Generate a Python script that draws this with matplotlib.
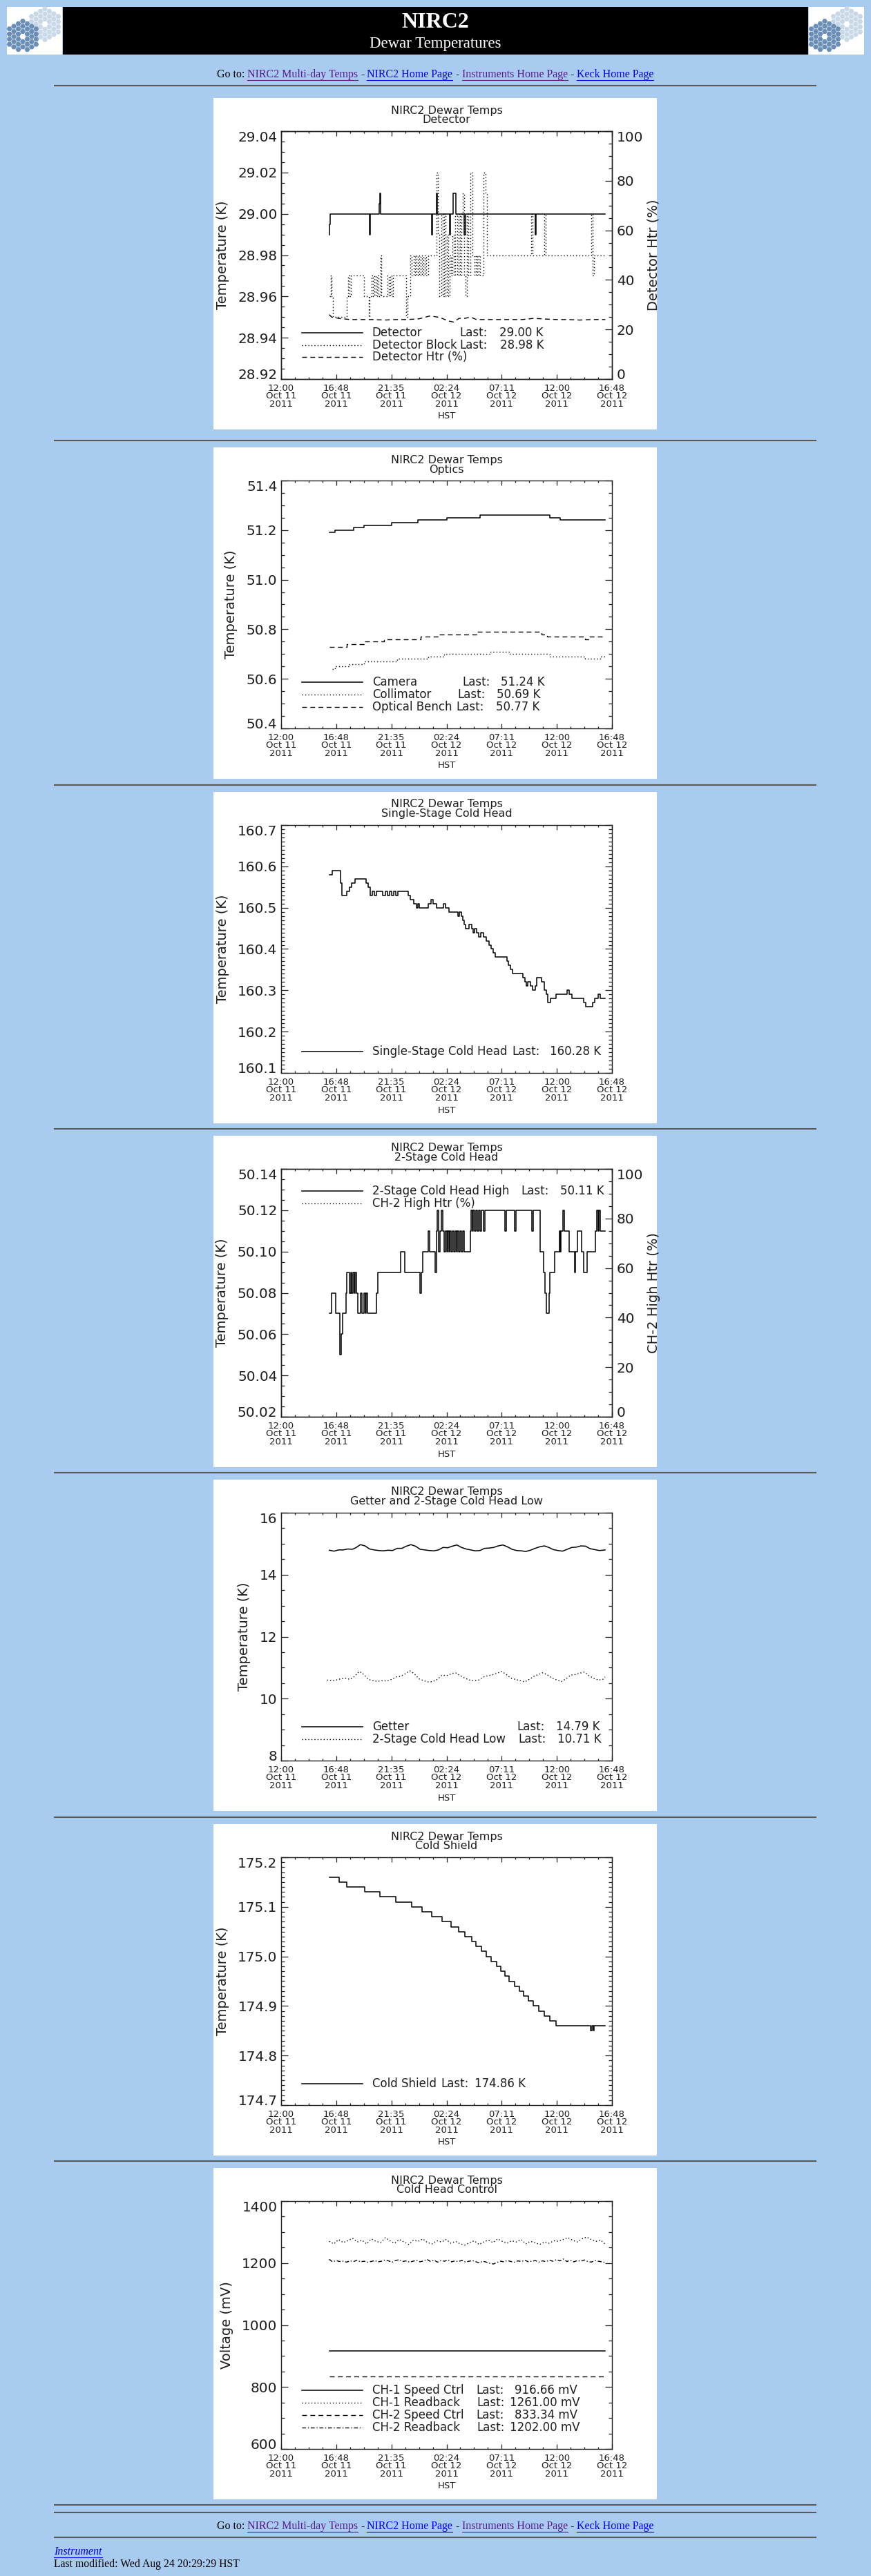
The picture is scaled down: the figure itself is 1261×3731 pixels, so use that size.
import numpy as np
import matplotlib
matplotlib.use('Agg')
import matplotlib.pyplot as plt
from matplotlib.patches import Rectangle, RegularPolygon
from matplotlib.ticker import MultipleLocator
from matplotlib.transforms import Bbox

plt.rcParams['font.family'] = ['DejaVu Sans']

# ---------------- data ----------------
# time axis: hours after 12:00 Oct 11 2011 (HST)
xticks = [0, 4.8, 9.6, 14.4, 19.2, 24.0, 28.8]
xlabels = ['12:00\nOct 11\n2011', '16:48\nOct 11\n2011', '21:35\nOct 11\n2011',
           '02:24\nOct 12\n2011', '07:11\nOct 12\n2011', '12:00\nOct 12\n2011',
           '16:48\nOct 12\n2011']
htr_ticks = [0, 20, 40, 60, 80, 100]
htr_labels = ['0', '20', '40', '60', '80', '100']

# panel 1 - detector
p1_ticks = [28.92, 28.94, 28.96, 28.98, 29.00, 29.02, 29.04]
p1_labels = ['28.92', '28.94', '28.96', '28.98', '29.00', '29.02', '29.04']
det_t = [4.18, 4.22, 4.25, 7.70, 7.78, 8.55, 8.60, 8.68, 13.10, 13.18, 13.50,
         13.60, 14.65, 14.73, 15.00, 15.20, 15.95, 16.05, 22.10, 22.20, 28.22]
det_v = [28.99, 28.995, 29.00, 28.99, 29.00, 29.005, 29.01, 29.00, 28.99, 29.00,
         29.01, 29.00, 28.99, 29.00, 29.01, 29.00, 28.99, 29.00, 28.99, 29.00, 29.00]
blk_t = [4.18, 4.30, 4.38, 4.48, 5.69, 5.82, 5.95, 6.07, 7.21, 7.62, 7.72, 7.85,
         7.97, 8.10, 8.22, 8.35, 8.48, 8.66, 8.73, 9.24, 9.36, 9.49, 9.62, 9.74,
         10.88, 11.01, 11.26, 11.39, 11.52, 11.64, 11.77, 11.89, 12.02, 12.15,
         12.27, 12.40, 12.53, 12.65, 12.78, 13.54, 13.67, 13.79, 13.92, 14.05,
         14.17, 14.30, 14.43, 14.55, 14.68, 14.80, 14.93, 15.06, 15.18, 15.31,
         15.44, 15.56, 15.69, 15.82, 15.94, 16.07, 16.20, 16.32, 16.50, 16.63,
         16.83, 16.96, 17.08, 17.21, 17.34, 17.64, 17.77, 17.89, 21.76, 21.89,
         22.90, 23.03, 27.00, 27.10, 27.26, 28.22]
blk_v = [28.96, 28.97, 28.96, 28.95, 28.96, 28.97, 28.96, 28.97, 28.96, 28.95,
         28.96, 28.97, 28.96, 28.97, 28.96, 28.97, 28.96, 28.98, 28.96, 28.97,
         28.96, 28.97, 28.96, 28.97, 28.95, 28.96, 28.98, 28.97, 28.98, 28.97,
         28.98, 28.97, 28.98, 28.97, 28.98, 28.97, 28.98, 28.97, 28.98, 29.02,
         28.99, 28.96, 29.00, 28.96, 29.00, 28.96, 28.99, 28.96, 28.98, 28.97,
         28.99, 28.97, 29.00, 28.97, 29.00, 28.97, 29.00, 29.01, 28.97, 28.96,
         29.00, 28.97, 29.02, 28.98, 28.97, 28.98, 28.97, 28.98, 28.97, 29.02,
         29.01, 28.98, 29.00, 28.98, 29.00, 28.98, 29.00, 28.97, 28.98, 28.98]
dhtr_t = [4.18, 4.40, 5.0, 6.0, 8.0, 9.0, 10.0, 11.0, 12.0, 13.0, 13.6, 14.0,
          14.5, 15.0, 15.5, 16.0, 16.5, 17.0, 18.0, 19.0, 20.0, 21.0, 22.0,
          23.0, 24.0, 25.0, 26.0, 27.0, 28.22]
dhtr_v = [26.0, 25.0, 24.5, 24.0, 24.0, 23.8, 24.0, 24.0, 24.3, 25.5, 25.0, 24.5,
          23.5, 23.0, 24.5, 24.5, 25.0, 24.0, 24.0, 24.0, 24.0, 24.0, 24.5,
          24.2, 24.0, 24.0, 23.8, 24.0, 24.0]

# panel 2 - optics
p2_ticks = [50.4, 50.6, 50.8, 51.0, 51.2, 51.4]
p2_labels = ['50.4', '50.6', '50.8', '51.0', '51.2', '51.4']
cam_t = [4.18, 4.68, 6.33, 7.21, 9.62, 11.90, 14.43, 17.34, 23.41, 24.30, 28.22]
cam_v = [51.19, 51.20, 51.21, 51.22, 51.23, 51.24, 51.25, 51.26, 51.25, 51.24, 51.24]
col_t = [4.43, 4.68, 5.95, 7.21, 10.12, 12.78, 14.17, 18.22, 19.87, 23.41, 26.45,
         27.80, 28.22]
col_v = [50.64, 50.65, 50.66, 50.67, 50.68, 50.69, 50.70, 50.71, 50.70, 50.69,
         50.68, 50.69, 50.69]
ben_t = [4.18, 5.69, 7.20, 8.98, 12.14, 13.67, 17.08, 22.65, 23.16, 26.45, 26.80, 28.22]
ben_v = [50.73, 50.74, 50.75, 50.76, 50.77, 50.78, 50.79, 50.78, 50.77, 50.76,
         50.77, 50.77]

# panel 3 - single-stage cold head
p3_ticks = [160.1, 160.2, 160.3, 160.4, 160.5, 160.6, 160.7]
p3_labels = ['160.1', '160.2', '160.3', '160.4', '160.5', '160.6', '160.7']
ss_t = [4.18, 4.43, 5.19, 5.31, 5.69, 5.95, 6.12, 6.45, 7.42, 7.59, 7.77, 7.92,
        8.10, 8.28, 8.86, 9.06, 9.24, 9.41, 9.62, 9.79, 10.00, 10.17, 11.06,
        11.26, 11.52, 11.77, 11.89, 12.02, 12.83, 13.03, 13.24, 13.54, 14.10,
        14.30, 14.60, 15.41, 15.51, 15.69, 15.82, 15.94, 16.07, 16.37, 16.58,
        16.70, 16.83, 17.00, 17.20, 17.38, 17.59, 17.84, 18.10, 18.30, 18.47,
        18.65, 19.66, 19.81, 19.99, 20.16, 21.05, 21.20, 21.33, 21.48, 21.68,
        21.89, 22.14, 22.26, 22.69, 22.90, 23.06, 23.21, 23.45, 23.92, 24.87,
        25.05, 25.30, 26.36, 26.49, 27.12, 27.32, 27.58, 27.75, 28.22]
ss_v = [160.58, 160.59, 160.56, 160.53, 160.54, 160.55, 160.56, 160.57, 160.56,
        160.55, 160.53, 160.54, 160.53, 160.54, 160.53, 160.54, 160.53, 160.54,
        160.53, 160.54, 160.53, 160.54, 160.53, 160.52, 160.51, 160.50, 160.51,
        160.50, 160.51, 160.52, 160.51, 160.50, 160.51, 160.50, 160.49, 160.48,
        160.49, 160.48, 160.47, 160.46, 160.45, 160.46, 160.45, 160.44, 160.45,
        160.44, 160.43, 160.44, 160.43, 160.42, 160.41, 160.40, 160.39, 160.38,
        160.37, 160.36, 160.35, 160.34, 160.33, 160.32, 160.31, 160.32, 160.31,
        160.30, 160.31, 160.33, 160.32, 160.30, 160.29, 160.27, 160.28, 160.29,
        160.30, 160.29, 160.28, 160.27, 160.26, 160.27, 160.28, 160.29, 160.28,
        160.28]

# panel 4 - 2-stage cold head
p4_ticks = [50.02, 50.04, 50.06, 50.08, 50.10, 50.12, 50.14]
p4_labels = ['50.02', '50.04', '50.06', '50.08', '50.10', '50.12', '50.14']
ch_t = [4.18, 4.38, 4.73, 5.09, 5.26, 5.37, 5.64, 5.74, 5.95, 6.05, 6.15, 6.25,
        6.35, 6.45, 6.55, 6.66, 6.91, 7.04, 7.21, 7.34, 7.42, 7.54, 8.30, 8.40,
        10.38, 10.76, 12.07, 12.22, 12.32, 12.78, 12.91, 13.41, 13.51, 13.59,
        13.72, 13.82, 13.94, 14.07, 14.20, 14.30, 14.40, 14.50, 14.60, 14.70,
        14.80, 14.93, 15.03, 15.13, 15.26, 15.36, 15.46, 15.59, 15.69, 15.82,
        15.92, 16.45, 16.53, 16.63, 16.73, 16.85, 16.98, 17.08, 17.21, 17.34,
        17.46, 17.59, 17.72, 19.49, 19.59, 20.32, 20.42, 21.81, 21.94, 22.52,
        22.83, 22.98, 23.11, 23.31, 23.41, 23.79, 24.22, 24.29, 24.37, 24.52,
        24.67, 25.10, 25.56, 25.63, 25.81, 26.14, 26.31, 26.64, 27.38, 27.45,
        27.58, 27.65, 27.78, 28.22]
ch_v = [50.07, 50.08, 50.07, 50.05, 50.06, 50.07, 50.08, 50.09, 50.08, 50.09,
        50.08, 50.09, 50.08, 50.09, 50.08, 50.07, 50.08, 50.07, 50.08, 50.07,
        50.08, 50.07, 50.08, 50.09, 50.10, 50.09, 50.08, 50.09, 50.10, 50.11,
        50.10, 50.09, 50.11, 50.12, 50.10, 50.11, 50.12, 50.11, 50.10, 50.11,
        50.10, 50.11, 50.10, 50.11, 50.10, 50.11, 50.10, 50.11, 50.10, 50.11,
        50.10, 50.11, 50.10, 50.11, 50.10, 50.11, 50.12, 50.11, 50.12, 50.11,
        50.12, 50.11, 50.12, 50.11, 50.12, 50.11, 50.12, 50.11, 50.12, 50.11,
        50.12, 50.11, 50.12, 50.10, 50.09, 50.08, 50.07, 50.08, 50.09, 50.10,
        50.11, 50.10, 50.11, 50.12, 50.11, 50.10, 50.09, 50.10, 50.11, 50.10,
        50.09, 50.10, 50.11, 50.12, 50.11, 50.12, 50.11, 50.11]
chh_t = [4.18, 28.22]
chh_v = [0.0, 0.0]

# panel 5 - getter and 2-stage cold head low
p5_ticks = [8, 10, 12, 14, 16]
p5_labels = ['8', '10', '12', '14', '16']
get_t = [4.2, 4.6, 5.0, 5.4, 5.8, 6.2, 6.5, 6.9, 7.3, 7.7, 8.1, 8.5, 8.9, 9.3,
         9.7, 10.1, 10.5, 10.9, 11.3, 11.7, 12.1, 12.5, 12.9, 13.3, 13.7, 14.1,
         14.5, 14.9, 15.3, 15.7, 16.1, 16.5, 16.9, 17.3, 17.7, 18.1, 18.5, 18.9,
         19.3, 19.7, 20.1, 20.5, 20.9, 21.3, 21.7, 22.1, 22.5, 22.9, 23.3, 23.7,
         24.1, 24.5, 24.9, 25.3, 25.7, 26.1, 26.5, 26.9, 27.3, 27.7, 28.0, 28.2]
get_v = [14.79, 14.76, 14.80, 14.80, 14.83, 14.82, 14.87, 14.97, 14.93, 14.83,
         14.80, 14.78, 14.77, 14.79, 14.78, 14.85, 14.85, 14.92, 14.97, 14.92,
         14.82, 14.80, 14.78, 14.77, 14.80, 14.88, 14.87, 14.92, 14.96, 14.88,
         14.83, 14.80, 14.77, 14.78, 14.85, 14.86, 14.88, 14.93, 14.96, 14.90,
         14.82, 14.78, 14.77, 14.75, 14.79, 14.85, 14.90, 14.93, 14.88, 14.81,
         14.78, 14.76, 14.82, 14.88, 14.89, 14.93, 14.92, 14.84, 14.81, 14.78,
         14.79, 14.80]
low_t = [4.0, 4.4, 4.8, 5.2, 5.6, 6.0, 6.4, 6.8, 7.2, 7.6, 8.0, 8.4, 8.8, 9.2,
         9.6, 10.0, 10.4, 10.8, 11.2, 11.6, 12.0, 12.4, 12.8, 13.2, 13.6, 14.0,
         14.4, 14.8, 15.2, 15.6, 16.0, 16.4, 16.8, 17.2, 17.6, 18.0, 18.4, 18.8,
         19.2, 19.6, 20.0, 20.4, 20.8, 21.2, 21.6, 22.0, 22.4, 22.8, 23.2, 23.6,
         24.0, 24.4, 24.8, 25.2, 25.6, 26.0, 26.4, 26.8, 27.2, 27.6, 28.0, 28.2]
low_v = [10.60, 10.58, 10.60, 10.64, 10.66, 10.62, 10.72, 10.88, 10.78, 10.62,
         10.58, 10.56, 10.58, 10.57, 10.62, 10.70, 10.72, 10.80, 10.90, 10.80,
         10.64, 10.58, 10.54, 10.55, 10.62, 10.76, 10.74, 10.80, 10.83, 10.74,
         10.66, 10.60, 10.58, 10.60, 10.70, 10.74, 10.77, 10.82, 10.88, 10.78,
         10.66, 10.62, 10.58, 10.54, 10.62, 10.72, 10.78, 10.84, 10.76, 10.66,
         10.60, 10.55, 10.64, 10.76, 10.78, 10.82, 10.86, 10.74, 10.66, 10.60,
         10.62, 10.70]

# panel 6 - cold shield
p6_ticks = [174.7, 174.8, 174.9, 175.0, 175.1, 175.2]
p6_labels = ['174.7', '174.8', '174.9', '175.0', '175.1', '175.2']
cs_t = [4.18, 5.06, 5.74, 7.29, 8.60, 10.00, 11.39, 12.27, 13.11, 14.00, 14.80,
        15.44, 16.02, 16.58, 16.96, 17.46, 17.84, 18.30, 18.73, 19.11, 19.49,
        19.87, 20.32, 20.75, 21.13, 21.51, 21.94, 22.40, 22.90, 23.41, 23.92,
        26.95, 27.05, 27.16, 27.26, 28.22]
cs_v = [175.16, 175.15, 175.14, 175.13, 175.12, 175.11, 175.10, 175.09, 175.08,
        175.07, 175.06, 175.05, 175.04, 175.03, 175.02, 175.01, 175.00, 174.99,
        174.98, 174.97, 174.96, 174.95, 174.94, 174.93, 174.92, 174.91, 174.90,
        174.89, 174.88, 174.87, 174.86, 174.85, 174.86, 174.85, 174.86, 174.86]

# panel 7 - cold head control
p7_ticks = [600, 800, 1000, 1200, 1400]
p7_labels = ['600', '800', '1000', '1200', '1400']
sc1_v = [916.66, 916.66]
sc2_v = [833.34, 833.34]
rb1_v = [1270, 1262, 1276, 1266, 1272, 1280, 1268, 1274, 1262, 1278, 1270, 1266,
         1282, 1272, 1264, 1276, 1268, 1260, 1274, 1270, 1278, 1266, 1262, 1272,
         1268, 1276, 1264, 1270, 1262, 1258, 1266, 1272, 1260, 1268, 1274, 1266,
         1278, 1270, 1264, 1272, 1268, 1276, 1262, 1270, 1266, 1260, 1268, 1264,
         1272, 1270, 1276, 1282, 1274, 1268, 1278, 1284, 1276, 1270, 1274, 1261]
rb2_v = [1212, 1204, 1208, 1205, 1206, 1203, 1207, 1205, 1209, 1204, 1206, 1203,
         1205, 1208, 1204, 1206, 1210, 1207, 1203, 1208, 1211, 1205, 1207, 1203,
         1206, 1209, 1204, 1207, 1212, 1205, 1209, 1203, 1208, 1206, 1210, 1204,
         1207, 1205, 1209, 1203, 1206, 1208, 1204, 1201, 1206, 1203, 1199, 1197,
         1202, 1206, 1204, 1208, 1205, 1203, 1207, 1205, 1209, 1204, 1206, 1208,
         1203, 1207, 1205, 1209, 1206, 1211, 1207, 1213, 1205, 1209, 1204, 1208,
         1206, 1210, 1205, 1203, 1208, 1206, 1204, 1202]
sc_t = [4.18, 28.22]
rb1_t = np.linspace(4.18, 28.22, len(rb1_v))
rb2_t = np.linspace(4.18, 28.22, len(rb2_v))

# ---------------- page layout ----------------
W, H = 1261, 3731
BG = '#A9CBEF'
INK = '#1e1e1e'
LW = 1.1
LS = {'solid': '-', 'dotted': (0, (1, 2.2)), 'dashed': (0, (5, 3.5)),
      'dashdot': (0, (4, 2, 1, 2))}

fig = plt.figure(figsize=(W / 100, H / 100), dpi=100, facecolor=BG)
page = fig.add_axes([0, 0, 1, 1])
page.set_xlim(0, W)
page.set_ylim(H, 0)
page.axis('off')
renderer = fig.canvas.get_renderer()


def fig_rect(x0, y0, x1, y1):
    return [x0 / W, 1 - y1 / H, (x1 - x0) / W, (y1 - y0) / H]


def logo(x0, y0):
    page.add_patch(Rectangle((x0, y0), 80, 69, fc='white', ec='none'))
    R = 4.3
    for cx, cy, col in ((x0 + 55, y0 + 25, '#C9D8E7'), (x0 + 23, y0 + 43, '#6A8EB6')):
        for q in range(-3, 4):
            for r in range(-3, 4):
                d = max(abs(q), abs(r), abs(q + r))
                if 1 <= d <= 3:
                    px = cx + 1.5 * R * q
                    py = cy + np.sqrt(3) * R * (r + q / 2)
                    if py + R > y0 + 69:
                        continue
                    page.add_patch(RegularPolygon((px, py), 6, radius=R * 0.92,
                                                  orientation=np.pi / 6, fc=col, ec='none'))


def text_runs(runs, y, x0=None, cx=None, size=11.5):
    objs = []
    for s, col, ul, it in runs:
        objs.append(page.text(0, y, s, color=col, family='Liberation Serif', size=size,
                              style='italic' if it else 'normal', va='center', ha='left'))
    a1 = page.text(0, 0, 'a a', family='Liberation Serif', size=size)
    a2 = page.text(0, 0, 'aa', family='Liberation Serif', size=size)
    sp = a1.get_window_extent(renderer).width - a2.get_window_extent(renderer).width
    a1.remove()
    a2.remove()
    widths = [t.get_window_extent(renderer).width for t in objs]
    total = sum(widths) + sp * (len(objs) - 1)
    x = x0 if x0 is not None else cx - total / 2
    for t, w, (s, col, ul, it) in zip(objs, widths, runs):
        t.set_x(x)
        if ul:
            page.plot([x, x + w], [y + 8, y + 8], color=col, lw=0.8)
        x += w + sp


def rule(y):
    page.plot([78, 1182], [y, y], color='#595959', lw=1.5, solid_capstyle='butt')


PURPLE, BLUE = '#551A8B', '#0000EE'
goto = [('Go to:', 'black', False, False), ('NIRC2 Multi-day Temps', PURPLE, True, False),
        ('-', 'black', False, False), ('NIRC2 Home Page', BLUE, True, False),
        ('-', 'black', False, False), ('Instruments Home Page', PURPLE, True, False),
        ('-', 'black', False, False), ('Keck Home Page', BLUE, True, False)]

# banner
page.add_patch(Rectangle((91, 10), 1079, 69, fc='black', ec='none'))
logo(10, 10)
logo(1171, 10)
page.text(630, 33, 'NIRC2', color='white', family='Liberation Serif', size=23,
          weight='bold', ha='center', va='center')
page.text(630, 63, 'Dewar Temperatures', color='white', family='Liberation Serif',
          size=16.5, ha='center', va='center')
text_runs(goto, 108, cx=630)
rule(124)

BOX_X0, BOX_X1, BOX_H = 309, 951, 480
AX_X0, AX_X1, AX_DY0, AX_DY1 = 407, 886, 48, 407
tops = [142, 648, 1147, 1645, 2143, 2642, 3140]
for t in tops[1:]:
    rule(t - 10)
rule(3628)
rule(3639)
text_runs(goto, 3659, cx=630)
rule(3675)
text_runs([('Instrument', BLUE, True, True)], 3696, x0=78)
page.text(78, 3714, 'Last modified: Wed Aug 24 20:29:29 HST', color='black',
          family='Liberation Serif', size=11.3, va='center', ha='left')


def end_labels(ax):
    ticks = ax.yaxis.get_major_ticks()
    for lab in (ticks[0].label1, ticks[0].label2):
        lab.set_va('baseline')
    for lab in (ticks[-1].label1, ticks[-1].label2):
        lab.set_va('top')


def make_panel(top, subtitle, ylim, yticks, ylabels, yminor, ylabel, series,
               names, lasts, cols, leg_y, right=None):
    page.add_patch(Rectangle((BOX_X0, top), BOX_X1 - BOX_X0, BOX_H, fc='white', ec='none'))
    cx = (AX_X0 + AX_X1) / 2
    page.text(cx, top + 18, 'NIRC2 Dewar Temps', ha='center', va='center', size=11.5, color=INK)
    page.text(cx, top + 32, subtitle, ha='center', va='center', size=11.5, color=INK)
    page.text(cx, top + 461, 'HST', ha='center', va='center', size=9.5, color=INK)

    ax = fig.add_axes(fig_rect(AX_X0, top + AX_DY0, AX_X1, top + AX_DY1))
    for s in ax.spines.values():
        s.set_linewidth(1.0)
        s.set_color(INK)
    ax.set_xlim(0, 28.8)
    ax.set_ylim(*ylim)
    ax.set_xticks(xticks, xlabels)
    ax.xaxis.set_minor_locator(MultipleLocator(1.2))
    ax.set_yticks(yticks, ylabels)
    ax.yaxis.set_minor_locator(MultipleLocator(yminor))
    ax.tick_params(which='both', direction='in', top=True, right=right is None,
                   color=INK, width=0.9)
    ax.tick_params(axis='x', which='major', length=5, pad=5, labelsize=9.5, labelcolor=INK)
    ax.tick_params(axis='x', which='minor', length=2.5)
    ax.tick_params(axis='y', which='major', length=7.2, pad=4, labelsize=14.4, labelcolor=INK)
    ax.tick_params(axis='y', which='minor', length=3.6)
    ax.set_ylabel(ylabel, size=14, color=INK, labelpad=9)

    ax2 = None
    if right is not None:
        ax2 = ax.twinx()
        ax2.set_ylim(0, 100)
        ax2.set_yticks(htr_ticks, htr_labels)
        ax2.yaxis.set_minor_locator(MultipleLocator(5))
        ax2.tick_params(which='both', direction='in', color=INK, width=0.9)
        ax2.tick_params(which='major', length=7.2, pad=5, labelsize=14.4, labelcolor=INK)
        ax2.tick_params(which='minor', length=3.6)
        for s in ax2.spines.values():
            s.set_linewidth(1.0)
            s.set_color(INK)
        end_labels(ax2)
        txt = page.text(946, top + (AX_DY0 + AX_DY1) / 2, right, rotation=90,
                        ha='center', va='center', size=14, color=INK)
        txt.set_clip_box(Bbox.from_extents(BOX_X0, H - top - BOX_H, BOX_X1, H - top))
    end_labels(ax)
    for lab in ax.get_xticklabels():
        lab.set_linespacing(0.85)

    styles = []
    for t, v, sty, steps, side in series:
        target = ax2 if side == 'r' else ax
        target.plot(t, v, color='black', lw=LW if sty == 'solid' else 1.0, ls=LS[sty],
                    drawstyle='steps-post' if steps else 'default')
        styles.append(sty)

    for i, name in enumerate(names):
        y = leg_y[i]
        ax.plot([0.062, 0.246], [y, y], transform=ax.transAxes, color='black',
                lw=LW if styles[i] == 'solid' else 1.0, ls=LS[styles[i]])
        ax.text(0.275, y, name, transform=ax.transAxes, va='center', ha='left',
                size=12, color=INK)
        if lasts[i] is not None:
            ax.text(cols[i][0], y, 'Last:', transform=ax.transAxes, va='center',
                    ha='left', size=12, color=INK)
            ax.text(cols[i][1], y, lasts[i], transform=ax.transAxes, va='center',
                    ha='left', size=12, color=INK)
    return ax


make_panel(tops[0], 'Detector', (28.92, 29.04), p1_ticks, p1_labels, 0.005,
           'Temperature (K)',
           [(det_t, det_v, 'solid', True, 'l'), (blk_t, blk_v, 'dotted', True, 'l'),
            (dhtr_t, dhtr_v, 'dashed', False, 'r')],
           ['Detector', 'Detector Block', 'Detector Htr (%)'],
           ['29.00 K', '28.98 K', None], [(0.540, 0.659), (0.540, 0.662), None],
           [0.188, 0.137, 0.088], right='Detector Htr (%)')

make_panel(tops[1], 'Optics', (50.4, 51.4), p2_ticks, p2_labels, 0.05,
           'Temperature (K)',
           [(cam_t, cam_v, 'solid', True, 'l'), (col_t, col_v, 'dotted', True, 'l'),
            (ben_t, ben_v, 'dashed', True, 'l')],
           ['Camera', 'Collimator', 'Optical Bench'],
           ['51.24 K', '50.69 K', '50.77 K'],
           [(0.547, 0.663), (0.533, 0.652), (0.530, 0.649)],
           [0.186, 0.136, 0.086])

make_panel(tops[2], 'Single-Stage Cold Head', (160.1, 160.7), p3_ticks, p3_labels, 0.01,
           'Temperature (K)', [(ss_t, ss_v, 'solid', True, 'l')],
           ['Single-Stage Cold Head'], ['160.28 K'], [(0.699, 0.813)], [0.085])

make_panel(tops[3], '2-Stage Cold Head', (50.02, 50.14), p4_ticks, p4_labels, 0.005,
           'Temperature (K)',
           [(ch_t, ch_v, 'solid', True, 'l'), (chh_t, chh_v, 'dotted', False, 'r')],
           ['2-Stage Cold Head High', 'CH-2 High Htr (%)'], ['50.11 K', None],
           [(0.725, 0.844), None], [0.910, 0.861], right='CH-2 High Htr (%)')

make_panel(tops[4], 'Getter and 2-Stage Cold Head Low', (8, 16), p5_ticks, p5_labels, 0.5,
           'Temperature (K)',
           [(get_t, get_v, 'solid', False, 'l'), (low_t, low_v, 'dotted', False, 'l')],
           ['Getter', '2-Stage Cold Head Low'], ['14.79 K', '10.71 K'],
           [(0.712, 0.830), (0.716, 0.835)], [0.137, 0.086])

make_panel(tops[5], 'Cold Shield', (174.7, 175.2), p6_ticks, p6_labels, 0.01,
           'Temperature (K)', [(cs_t, cs_v, 'solid', True, 'l')],
           ['Cold Shield'], ['174.86 K'], [(0.483, 0.584)], [0.087])

make_panel(tops[6], 'Cold Head Control', (600, 1400), p7_ticks, p7_labels, 50,
           'Voltage (mV)',
           [(sc_t, sc1_v, 'solid', False, 'l'), (rb1_t, rb1_v, 'dotted', False, 'l'),
            (sc_t, sc2_v, 'dashed', False, 'l'), (rb2_t, rb2_v, 'dashdot', False, 'l')],
           ['CH-1 Speed Ctrl', 'CH-1 Readback', 'CH-2 Speed Ctrl', 'CH-2 Readback'],
           ['916.66 mV', '1261.00 mV', '833.34 mV', '1202.00 mV'],
           [(0.589, 0.705), (0.591, 0.692), (0.589, 0.705), (0.591, 0.692)],
           [0.238, 0.188, 0.137, 0.087])

fig.savefig('out.png', dpi=100, facecolor=BG)
